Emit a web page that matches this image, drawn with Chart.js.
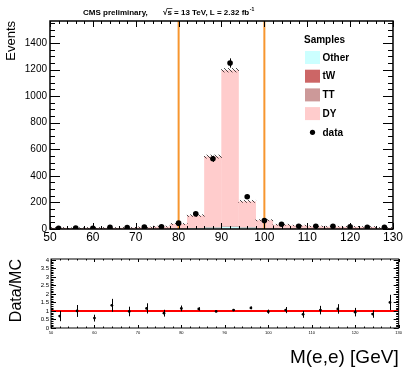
<!DOCTYPE html>
<html>
<head>
<meta charset="utf-8">
<script src="https://cdn.jsdelivr.net/npm/chart.js@4.4.0/dist/chart.umd.min.js"></script>
<style>
  html, body { margin: 0; padding: 0; background: #fff; }
  #wrap { position: relative; width: 404px; height: 372px; overflow: hidden; }
  #mainChart { position: absolute; left: 0; top: 0; }
  #ratioChart { position: absolute; left: 0; top: 250px; }
</style>
</head>
<body>
<div id="wrap">
  <canvas id="mainChart" width="404" height="250"></canvas>
  <canvas id="ratioChart" width="404" height="122"></canvas>
</div>
<script>
// bin centres of M(e,e), 4 GeV bins from 50 to 130
var binCenters  = [52, 56, 60, 64, 68, 72, 76, 80, 84, 88, 92, 96, 100, 104, 108, 112, 116, 120, 124, 128];
// stacked MC samples (bottom -> top: Other, tW, TT, DY)
var otherValues = [1, 1, 1, 1, 1, 1, 1, 2, 6, 12, 18, 12, 3, 2, 1, 1, 1, 1, 1, 1];
var twValues    = [0.5, 0.5, 0.5, 0.5, 0.5, 0.5, 0.5, 0.5, 0.5, 0.5, 0.5, 0.5, 0.5, 0.5, 0.5, 0.5, 0.5, 0.5, 0.5, 0.5];
var ttValues    = [1, 1, 1, 1, 1, 1, 1, 1, 1, 1, 1, 1, 1, 1, 1, 1, 1, 1, 1, 1];
var dyValues    = [6.5, 4.5, 6.5, 6.5, 7.5, 10.5, 15.5, 34.5, 93.5, 531.5, 1175.5, 194.5, 61.5, 28.5, 23.5, 17.5, 15.5, 14.5, 13.5, 6.5];
var mcErrors    = [3, 3, 3, 3, 3, 3, 4, 5, 7, 12, 14, 8, 5, 4, 3, 3, 3, 3, 3, 3];
// data
var dataValues  = [6, 7, 5, 12, 10, 15, 16, 44, 114, 528, 1249, 243, 64, 36, 21, 21, 20, 16, 13, 13];
var dataErrors  = [2.5, 2.6, 2.2, 3.5, 3.2, 3.9, 4, 6.6, 10.7, 23, 35, 15.6, 8, 6, 4.6, 4.6, 4.5, 4, 3.6, 3.6];
// ratio panel
var ratioValues = [0.7, 1.0, 0.58, 1.33, 0.97, 1.15, 0.87, 1.15, 1.12, 0.97, 1.05, 1.18, 0.96, 1.05, 0.8, 1.05, 1.12, 0.93, 0.82, 1.5];
var ratioErrors = [0.3, 0.35, 0.2, 0.38, 0.28, 0.3, 0.2, 0.17, 0.1, 0.04, 0.03, 0.08, 0.12, 0.18, 0.2, 0.25, 0.28, 0.25, 0.22, 0.45];
// cut lines and tick labels
var cutLines    = [80, 100];
var xTicks      = [50, 60, 70, 80, 90, 100, 110, 120, 130];
var yTicks      = [0, 200, 400, 600, 800, 1000, 1200, 1400];
var ratioTicks  = [0, 0.5, 1, 1.5, 2, 2.5, 3, 3.5, 4];

var sampleNames  = ['Other', 'tW', 'TT', 'DY'];
var sampleColors = ['#ccffff', '#cc6666', '#cc9999', '#ffcccc'];

Chart.defaults.font.family = "'Liberation Sans', Arial, sans-serif";
Chart.defaults.color = '#000';

// cumulative tops of the stack
var otherTop = otherValues.slice();
var twTop = otherTop.map(function(v, i) { return v + twValues[i]; });
var ttTop = twTop.map(function(v, i) { return v + ttValues[i]; });
var dyTop = ttTop.map(function(v, i) { return v + dyValues[i]; });

function points(arr) {
  return binCenters.map(function(x, i) { return {x: x, y: arr[i]}; });
}

function fixedTicks(list) {
  return function(scale) {
    scale.ticks = list.map(function(v) { return {value: v}; });
  };
}

function hatch() {
  var c = document.createElement('canvas');
  c.width = 4; c.height = 4;
  var g = c.getContext('2d');
  g.strokeStyle = '#000';
  g.lineWidth = 0.7;
  g.beginPath();
  g.moveTo(-1, -1); g.lineTo(5, 5);
  g.stroke();
  return g.createPattern(c, 'repeat');
}

function barSet(arr, color) {
  return {
    type: 'bar', data: points(arr), backgroundColor: color, borderWidth: 0,
    barPercentage: 1.02, categoryPercentage: 1, grouped: false
  };
}

// ROOT style frame with inner ticks on all four sides
var framePlugin = {
  id: 'rootFrame',
  afterDatasetsDraw: function(chart, args, o) {
    var ctx = chart.ctx, a = chart.chartArea;
    var xs = chart.scales.x, ys = chart.scales.y;
    ctx.save();
    ctx.strokeStyle = '#000';
    ctx.lineWidth = 1;
    ctx.beginPath();
    var n = Math.round((xs.max - xs.min) / o.xMinor);
    for (var i = 0; i <= n; i++) {
      var px = Math.round(xs.getPixelForValue(xs.min + i * o.xMinor)) + 0.5;
      var len = i % o.xEvery === 0 ? o.xLen : o.xLen / 2;
      ctx.moveTo(px, a.bottom); ctx.lineTo(px, a.bottom - len);
      ctx.moveTo(px, a.top); ctx.lineTo(px, a.top + len);
    }
    var m = Math.floor((ys.max - ys.min) / o.yMinor + 1e-6);
    for (var j = 0; j <= m; j++) {
      var py = Math.round(ys.getPixelForValue(ys.min + j * o.yMinor)) + 0.5;
      var ylen = j % o.yEvery === 0 ? o.yLen : o.yLen / 2;
      ctx.moveTo(a.left, py); ctx.lineTo(a.left + ylen, py);
      ctx.moveTo(a.right, py); ctx.lineTo(a.right - ylen, py);
    }
    ctx.stroke();
    ctx.lineWidth = o.frame;
    ctx.strokeRect(a.left, a.top, a.right - a.left, a.bottom - a.top);
    ctx.restore();
  }
};

function errorPlugin(values, errors) {
  return {
    id: 'errBars',
    afterDatasetsDraw: function(chart) {
      var ctx = chart.ctx, xs = chart.scales.x, ys = chart.scales.y;
      ctx.save();
      ctx.strokeStyle = '#000';
      ctx.lineWidth = 1;
      ctx.beginPath();
      binCenters.forEach(function(x, i) {
        var px = Math.round(xs.getPixelForValue(x)) + 0.5;
        ctx.moveTo(px, ys.getPixelForValue(values[i] - errors[i]));
        ctx.lineTo(px, ys.getPixelForValue(values[i] + errors[i]));
      });
      ctx.stroke();
      ctx.restore();
    }
  };
}

// header and legend of the upper pad
var textPlugin = {
  id: 'padText',
  afterDraw: function(chart) {
    var ctx = chart.ctx;
    ctx.save();
    ctx.fillStyle = '#000';
    ctx.textBaseline = 'alphabetic';
    ctx.font = "bold 8px 'Liberation Sans', Arial, sans-serif";
    ctx.fillText('CMS preliminary,', 83, 15);
    var t = '\u221As = 13 TeV, L = 2.32 fb';
    ctx.fillText(t, 163, 15);
    var w = ctx.measureText(t).width;
    var ws = ctx.measureText('\u221A').width;
    ctx.fillRect(163 + ws - 0.5, 8, ctx.measureText('s').width + 1, 0.7);
    ctx.font = "bold 5px 'Liberation Sans', Arial, sans-serif";
    ctx.fillText('-1', 163 + w + 0.5, 11);

    ctx.font = "bold 10px 'Liberation Sans', Arial, sans-serif";
    ctx.fillText('Samples', 304, 43);
    ctx.textBaseline = 'middle';
    var y0 = 57.5, dy = 18.7;
    sampleNames.forEach(function(name, i) {
      var y = y0 + i * dy;
      ctx.fillStyle = sampleColors[i];
      ctx.fillRect(305, y - 6.5, 15, 13);
      ctx.fillStyle = '#000';
      ctx.fillText(name, 322.5, y + 0.5);
    });
    var yd = y0 + 4 * dy;
    ctx.beginPath();
    ctx.arc(312.5, yd, 2.6, 0, Math.PI * 2);
    ctx.fill();
    ctx.fillText('data', 322.5, yd + 0.5);
    ctx.restore();
  }
};

var mainSets = [
  {type: 'scatter', data: points(dataValues), pointRadius: 2.8, pointBackgroundColor: '#000', pointBorderWidth: 0, showLine: false},
  {type: 'line', data: [{x: cutLines[0], y: 0}, {x: cutLines[0], y: 1565}], borderColor: '#f7962f', borderWidth: 2, pointRadius: 0},
  {type: 'line', data: [{x: cutLines[1], y: 0}, {x: cutLines[1], y: 1565}], borderColor: '#f7962f', borderWidth: 2, pointRadius: 0},
  {type: 'bar', data: binCenters.map(function(x, i) { return {x: x, y: [dyTop[i] - mcErrors[i], dyTop[i] + mcErrors[i]]}; }),
   backgroundColor: hatch(), borderWidth: 0, barPercentage: 1, categoryPercentage: 1, grouped: false},
  barSet(otherTop, sampleColors[0]),
  barSet(twTop, sampleColors[1]),
  barSet(ttTop, sampleColors[2]),
  barSet(dyTop, sampleColors[3])
];

new Chart(document.getElementById('mainChart'), {
  type: 'bar',
  data: {datasets: mainSets},
  plugins: [framePlugin, errorPlugin(dataValues, dataErrors), textPlugin],
  options: {
    responsive: false, animation: false, devicePixelRatio: 1,
    layout: {padding: {left: 0, right: 5, top: 21, bottom: 0}},
    plugins: {
      legend: {display: false}, tooltip: {enabled: false},
      rootFrame: {xMinor: 2, xEvery: 5, xLen: 6, yMinor: 50, yEvery: 4, yLen: 10, frame: 1.5}
    },
    scales: {
      x: {
        type: 'linear', min: 50, max: 130, offset: false,
        grid: {display: false, drawTicks: false}, border: {display: false},
        afterBuildTicks: fixedTicks(xTicks),
        ticks: {autoSkip: false, maxRotation: 0, padding: 1, font: {size: 12},
                callback: function(v) { return String(v); }},
        afterFit: function(s) { s.height = 21; }
      },
      y: {
        type: 'linear', min: 0, max: 1565,
        grid: {display: false, drawTicks: false}, border: {display: false},
        afterBuildTicks: fixedTicks(yTicks),
        ticks: {autoSkip: false, padding: 3, font: {size: 10}, callback: function(v) { return String(v); }},
        title: {display: true, text: 'Events', align: 'end', font: {size: 13}, padding: {top: 4, bottom: 0}},
        afterFit: function(s) { s.width = 50; }
      }
    }
  }
});

new Chart(document.getElementById('ratioChart'), {
  type: 'scatter',
  data: {
    datasets: [
      {data: points(ratioValues), pointRadius: 1.4, pointBackgroundColor: '#000', pointBorderWidth: 0},
      {type: 'line', data: [{x: 50, y: 1}, {x: 130, y: 1}], borderColor: '#ff0000', borderWidth: 2, pointRadius: 0}
    ]
  },
  plugins: [framePlugin, errorPlugin(ratioValues, ratioErrors)],
  options: {
    responsive: false, animation: false, devicePixelRatio: 1,
    layout: {padding: {left: 0, right: 5, top: 9, bottom: 0}},
    plugins: {
      legend: {display: false}, tooltip: {enabled: false},
      rootFrame: {xMinor: 2, xEvery: 5, xLen: 3, yMinor: 0.1, yEvery: 5, yLen: 5, frame: 1}
    },
    scales: {
      x: {
        type: 'linear', min: 50, max: 130,
        grid: {display: false, drawTicks: false}, border: {display: false},
        afterBuildTicks: fixedTicks(xTicks),
        ticks: {autoSkip: false, maxRotation: 0, padding: 2, font: {size: 4},
                callback: function(v) { return String(v); }},
        title: {display: true, text: 'M(e,e) [GeV]', align: 'end', font: {size: 19}, padding: {top: 0, bottom: 3}},
        afterFit: function(s) { s.height = 44; }
      },
      y: {
        type: 'linear', min: 0, max: 4.05,
        grid: {display: false, drawTicks: false}, border: {display: false},
        afterBuildTicks: fixedTicks(ratioTicks),
        ticks: {autoSkip: false, padding: 2, font: {size: 6}, callback: function(v) { return String(v); }},
        title: {display: true, text: 'Data/MC', align: 'end', font: {size: 16}, padding: {top: 7, bottom: 0}},
        afterFit: function(s) { s.width = 51; }
      }
    }
  }
});
</script>
</body>
</html>
